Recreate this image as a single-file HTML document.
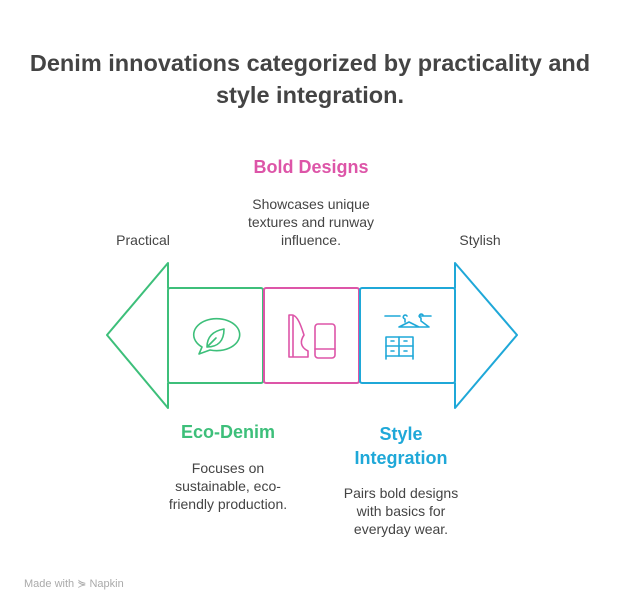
<!DOCTYPE html>
<html><head><meta charset="utf-8"><style>
body{margin:0;width:624px;height:613px;background:#fff;font-family:"Liberation Sans",sans-serif;position:relative;overflow:hidden}
.t{position:absolute;white-space:nowrap;text-align:center;transform:translateX(-50%)}
.h{font-weight:bold;font-size:18px}
.d{font-size:14px;color:#444;line-height:18px}
</style></head><body>
<div class="t" style="left:310px;top:47px;font-size:23.5px;font-weight:bold;color:#444;line-height:32px">Denim innovations categorized by practicality and<br>style integration.</div>
<div class="t h" style="left:311px;top:157px;color:#dd55a8">Bold Designs</div>
<div class="t d" style="left:311px;top:195px">Showcases unique<br>textures and runway<br>influence.</div>
<div class="t d" style="left:143px;top:231px">Practical</div>
<div class="t d" style="left:480px;top:231px">Stylish</div>
<div class="t h" style="left:228px;top:422px;color:#3dbf7a">Eco-Denim</div>
<div class="t d" style="left:228px;top:459px">Focuses on<br>sustainable, eco-<br>friendly production.</div>
<div class="t h" style="left:401px;top:422px;color:#1fa8d8;line-height:24px">Style<br>Integration</div>
<div class="t d" style="left:401px;top:484px">Pairs bold designs<br>with basics for<br>everyday wear.</div>
<div style="position:absolute;left:24px;top:577px;font-size:11px;color:#aaa">Made with ⋟ Napkin</div>
<svg width="624" height="613" style="position:absolute;left:0;top:0" fill="none" stroke-width="2" stroke-linejoin="round" stroke-linecap="round">
<path d="M168 288 V263 L107 335 L168 408 V383" stroke="#3dbf7a"/>
<rect x="168" y="288" width="95" height="95" rx="2" stroke="#3dbf7a"/>
<rect x="264" y="288" width="95" height="95" rx="2" stroke="#dd55a8"/>
<rect x="360" y="288" width="95" height="95" rx="2" stroke="#1fa8d8"/>
<path d="M455 288 V263 L517 335 L455 408 V383" stroke="#1fa8d8"/>
<g stroke="#3dbf7a" stroke-width="1.6">
<path d="M199 354 l3 -7 a23 16 0 1 1 8 3 z"/>
<path d="M207 347 c0-10 6-16 17-18 c0 12-6 18-17 18 M207 347 l9-9"/>
</g>
<g stroke="#dd55a8" stroke-width="1.6">
<path d="M289 315 h3 c6 0 10 14 12 20 c-4 6-4 12 4 16 v6 h-19 z M293 315 v42"/>
<rect x="315" y="324" width="20" height="34" rx="3"/><path d="M315 349 h20"/>
</g>
<g stroke="#1fa8d8" stroke-width="1.6">
<path d="M385 316 h15 M419 316 h12 M399 327 l10-5 10 5 z M405 322 v-3 a2 2 0 1 1 2-3 M417 327 l12 0 -8-6 v-3 a2 2 0 1 1 2-3"/>
<rect x="386" y="337" width="27" height="19"/><path d="M386 346 h27 M399 337 v19 M386 356 v3 M413 356 v3 M391 341 h3 M404 341 h3 M391 351 h3 M404 351 h3"/>
</g>
</svg>
</body></html>
